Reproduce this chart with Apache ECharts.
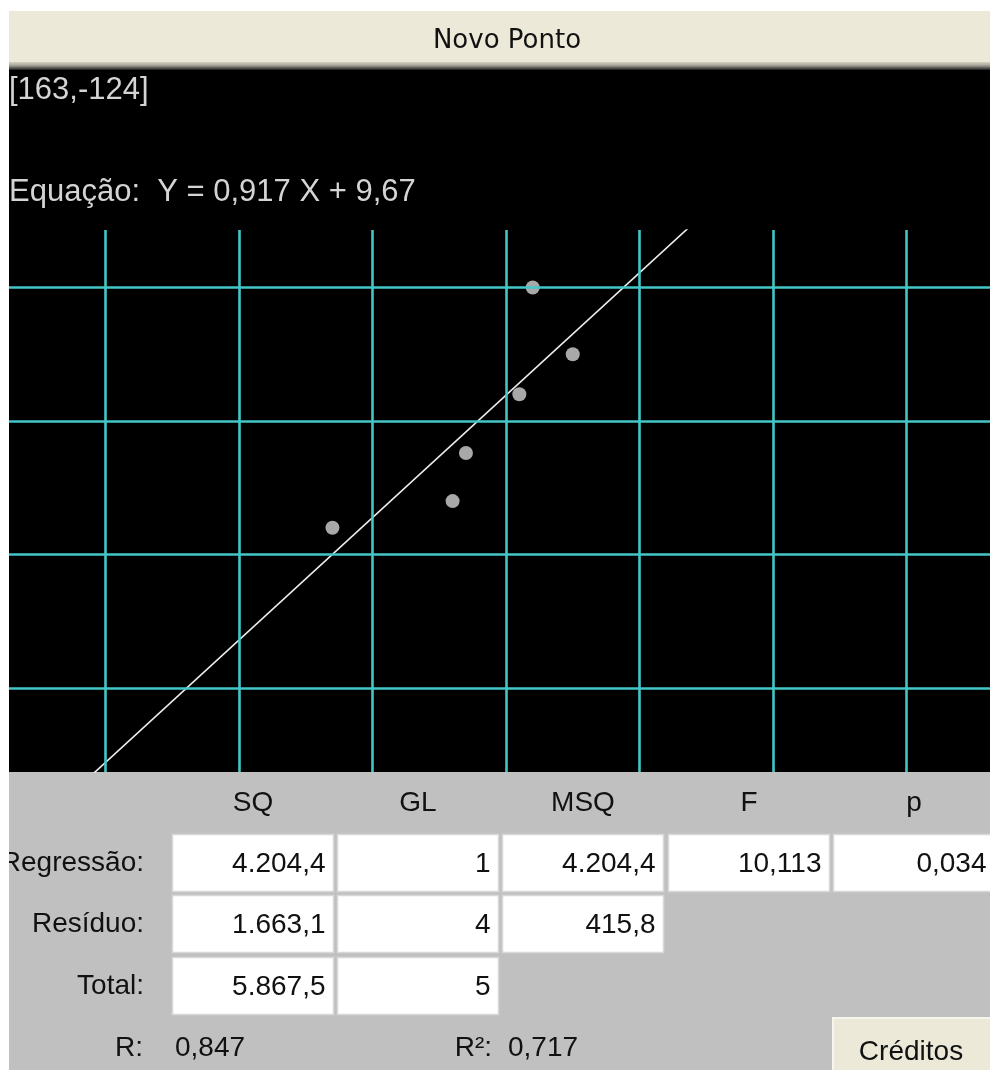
<!DOCTYPE html>
<html>
<head>
<meta charset="utf-8">
<title>Regressão Linear</title>
<script src="https://cdn.jsdelivr.net/npm/echarts@6/dist/echarts.min.js"></script>
<style>
  html, body { margin: 0; padding: 0; background: #ffffff; }
  #chart { width: 990px; height: 1070px; }
</style>
</head>
<body>
<div id="chart"></div>
<script>
// Observed points (X, Y)
const pointsX = [-65, -20, -15, 5, 10, 25];
const pointsY = [-40, -30, -12, 10, 50, 25];

// Grid line positions (data units)
const gridLinesX = [-150, -100, -50, 0, 50, 100, 150];
const gridLinesY = [-100, -50, 0, 50];

// Cursor readout shown in the top-left corner
const cursorReadout = [163, -124];

// ANOVA table labels
const anovaColumns = ['SQ', 'GL', 'MSQ', 'F', 'p'];
const anovaRows = ['Regressão:', 'Resíduo:', 'Total:'];

// ---- least-squares fit ----
const n = pointsX.length;
const mean = a => a.reduce((s, v) => s + v, 0) / a.length;
const mx = mean(pointsX), my = mean(pointsY);
let sxx = 0, syy = 0, sxy = 0;
for (let i = 0; i < n; i++) {
  const dx = pointsX[i] - mx, dy = pointsY[i] - my;
  sxx += dx * dx; syy += dy * dy; sxy += dx * dy;
}
const slope = sxy / sxx;
const intercept = my - slope * mx;
const ssReg = slope * sxy, ssTot = syy, ssRes = ssTot - ssReg;
const dfReg = 1, dfRes = n - 2, dfTot = n - 1;
const msReg = ssReg / dfReg, msRes = ssRes / dfRes;
const fStat = msReg / msRes;
const r = Math.sign(slope) * Math.sqrt(ssReg / ssTot);
const r2 = ssReg / ssTot;

// regularized incomplete beta, for the F-test p-value
function gammln(x) {
  const cof = [76.18009172947146, -86.50532032941677, 24.01409824083091,
    -1.231739572450155, 0.1208650973866179e-2, -0.5395239384953e-5];
  let y = x, tmp = x + 5.5;
  tmp -= (x + 0.5) * Math.log(tmp);
  let ser = 1.000000000190015;
  for (let j = 0; j < 6; j++) ser += cof[j] / ++y;
  return -tmp + Math.log(2.5066282746310005 * ser / x);
}
function betacf(a, b, x) {
  const FPMIN = 1e-300;
  const qab = a + b, qap = a + 1, qam = a - 1;
  let c = 1, d = 1 - qab * x / qap;
  if (Math.abs(d) < FPMIN) d = FPMIN;
  d = 1 / d;
  let h = d;
  for (let m = 1; m <= 300; m++) {
    const m2 = 2 * m;
    let aa = m * (b - m) * x / ((qam + m2) * (a + m2));
    d = 1 + aa * d; if (Math.abs(d) < FPMIN) d = FPMIN;
    c = 1 + aa / c; if (Math.abs(c) < FPMIN) c = FPMIN;
    d = 1 / d; h *= d * c;
    aa = -(a + m) * (qab + m) * x / ((a + m2) * (qap + m2));
    d = 1 + aa * d; if (Math.abs(d) < FPMIN) d = FPMIN;
    c = 1 + aa / c; if (Math.abs(c) < FPMIN) c = FPMIN;
    d = 1 / d;
    const del = d * c;
    h *= del;
    if (Math.abs(del - 1) < 3e-14) break;
  }
  return h;
}
function betai(a, b, x) {
  if (x <= 0) return 0;
  if (x >= 1) return 1;
  const bt = Math.exp(gammln(a + b) - gammln(a) - gammln(b) + a * Math.log(x) + b * Math.log(1 - x));
  if (x < (a + 1) / (a + b + 2)) return bt * betacf(a, b, x) / a;
  return 1 - bt * betacf(b, a, 1 - x) / b;
}
const pValue = betai(dfRes / 2, dfReg / 2, dfRes / (dfRes + dfReg * fStat));

// pt-BR number formatting: 4.204,4
function fmt(v, dec) {
  const s = Math.abs(v).toFixed(dec);
  let [ip, fp] = s.split('.');
  ip = ip.replace(/\B(?=(\d{3})+(?!\d))/g, '.');
  return (v < 0 ? '-' : '') + ip + (fp ? ',' + fp : '');
}

// ---- layout ----
const W = 990, H = 1070;
const plotLeft = 9, plotTop = 230, plotBottom = 772;
const pxPerUnit = 2.67;
const originPx = [506, 421];
const xMin = (plotLeft - originPx[0]) / pxPerUnit;
const xMax = (W - originPx[0]) / pxPerUnit;
const yMax = (originPx[1] - plotTop) / pxPerUnit;
const yMin = (originPx[1] - plotBottom) / pxPerUnit;

const FONT = '"Liberation Sans", Arial, sans-serif';
const gridColor = '#43c6c6';

const graphics = [];
// panel backgrounds
graphics.push({ type: 'rect', z: -10, shape: { x: 0, y: 0, width: W, height: H }, style: { fill: '#c0c0c0' } });
graphics.push({ type: 'rect', z: -9, shape: { x: 0, y: 70, width: W, height: plotBottom - 70 }, style: { fill: '#000000' } });
// title bar
graphics.push({ type: 'rect', z: -9, shape: { x: 0, y: 11, width: W, height: 52 }, style: { fill: '#ece9d8' } });
graphics.push({
  type: 'rect', z: -9, shape: { x: 0, y: 62, width: W, height: 8 },
  style: { fill: new echarts.graphic.LinearGradient(0, 0, 0, 1, [
    { offset: 0, color: '#d6d3c3' }, { offset: 0.4, color: '#a9a79c' },
    { offset: 0.75, color: '#5a5a56' }, { offset: 1, color: '#1a1a1a' }]) }
});
graphics.push({
  type: 'text', z: 10, x: 507, y: 41,
  style: { text: 'Novo Ponto', font: '26px "DejaVu Sans", sans-serif', fill: '#111111', align: 'center', verticalAlign: 'middle' }
});
// readouts in the plot panel
graphics.push({
  type: 'text', z: 10, x: 9, y: 90,
  style: { text: '[' + cursorReadout[0] + ',' + cursorReadout[1] + ']', font: '31px ' + FONT, fill: '#d4d4d4', align: 'left', verticalAlign: 'middle' }
});
graphics.push({
  type: 'text', z: 10, x: 9, y: 192,
  style: { text: 'Equação:  Y = ' + fmt(slope, 3) + ' X + ' + fmt(intercept, 2), font: '31px ' + FONT, fill: '#d4d4d4', align: 'left', verticalAlign: 'middle' }
});

// ANOVA table
const colLeft = [172, 337, 502, 668, 833];
const colW = 162;
const rowTop = [834, 895, 957];
const rowH = 58;
const tableFont = '28px ' + FONT;
anovaColumns.forEach((c, j) => {
  graphics.push({
    type: 'text', z: 10, x: colLeft[j] + colW / 2, y: 803,
    style: { text: c, font: tableFont, fill: '#111111', align: 'center', verticalAlign: 'middle' }
  });
});
const tableValues = [
  [fmt(ssReg, 1), fmt(dfReg, 0), fmt(msReg, 1), fmt(fStat, 3), fmt(pValue, 3)],
  [fmt(ssRes, 1), fmt(dfRes, 0), fmt(msRes, 1)],
  [fmt(ssTot, 1), fmt(dfTot, 0)]
];
anovaRows.forEach((label, i) => {
  const cy = rowTop[i] + rowH / 2;
  graphics.push({
    type: 'text', z: 10, x: 144, y: cy,
    style: { text: label, font: tableFont, fill: '#111111', align: 'right', verticalAlign: 'middle' }
  });
  tableValues[i].forEach((v, j) => {
    graphics.push({
      type: 'rect', z: 5, shape: { x: colLeft[j] + 0.5, y: rowTop[i] + 0.5, width: colW - 1, height: rowH - 1 },
      style: { fill: '#ffffff', stroke: '#d8d8d8', lineWidth: 1.5 }
    });
    graphics.push({
      type: 'text', z: 10, x: colLeft[j] + colW - 8.5, y: cy + 1,
      style: { text: v, font: tableFont, fill: '#111111', align: 'right', verticalAlign: 'middle' }
    });
  });
});

// correlation summary
const summaryY = 1048;
graphics.push({ type: 'text', z: 10, x: 143, y: summaryY, style: { text: 'R:', font: tableFont, fill: '#111111', align: 'right', verticalAlign: 'middle' } });
graphics.push({ type: 'text', z: 10, x: 175, y: summaryY, style: { text: fmt(r, 3), font: tableFont, fill: '#111111', align: 'left', verticalAlign: 'middle' } });
graphics.push({ type: 'text', z: 10, x: 492, y: summaryY, style: { text: 'R²:', font: tableFont, fill: '#111111', align: 'right', verticalAlign: 'middle' } });
graphics.push({ type: 'text', z: 10, x: 508, y: summaryY, style: { text: fmt(r2, 3), font: tableFont, fill: '#111111', align: 'left', verticalAlign: 'middle' } });

// credits button
graphics.push({
  type: 'rect', z: 5, shape: { x: 833, y: 1018, width: 170, height: 70 },
  style: { fill: '#ece9d8', stroke: '#f6f5ee', lineWidth: 2 }
});
graphics.push({
  type: 'text', z: 10, x: 911, y: 1052,
  style: { text: 'Créditos', font: tableFont, fill: '#111111', align: 'center', verticalAlign: 'middle' }
});

// page margins
graphics.push({ type: 'rect', z: 100, shape: { x: 0, y: 0, width: W, height: 11 }, style: { fill: '#ffffff' } });
graphics.push({ type: 'rect', z: 100, shape: { x: 0, y: 0, width: plotLeft, height: H }, style: { fill: '#ffffff' } });

const chart = echarts.init(document.getElementById('chart'), null, { renderer: 'canvas', width: W, height: H });

chart.setOption({
  animation: false,
  backgroundColor: '#ffffff',
  graphic: { elements: graphics },
  grid: { left: plotLeft, top: plotTop, width: W - plotLeft, height: plotBottom - plotTop, containLabel: false, show: false },
  xAxis: {
    type: 'value', min: xMin, max: xMax,
    axisLine: { show: false }, axisTick: { show: false }, axisLabel: { show: false }, splitLine: { show: false }
  },
  yAxis: {
    type: 'value', min: yMin, max: yMax,
    axisLine: { show: false }, axisTick: { show: false }, axisLabel: { show: false }, splitLine: { show: false }
  },
  series: [
    {
      name: 'grade', type: 'line', data: [], z: 2, silent: true,
      markLine: {
        silent: true, symbol: 'none', animation: false,
        label: { show: false },
        lineStyle: { color: gridColor, width: 2.6, type: 'solid' },
        data: gridLinesX.map(v => ({ xAxis: v })).concat(gridLinesY.map(v => ({ yAxis: v })))
      }
    },
    {
      name: 'reta', type: 'line', z: 3, silent: true, clip: true,
      showSymbol: false, symbol: 'none',
      lineStyle: { color: '#eeeeee', width: 1.6 },
      data: [[xMin, intercept + slope * xMin], [xMax, intercept + slope * xMax]]
    },
    {
      name: 'pontos', type: 'scatter', z: 4, silent: true,
      symbol: 'circle', symbolSize: 14,
      itemStyle: { color: '#d2d2d2' },
      data: pointsX.map((x, i) => [x, pointsY[i]])
    }
  ]
});
</script>
</body>
</html>
